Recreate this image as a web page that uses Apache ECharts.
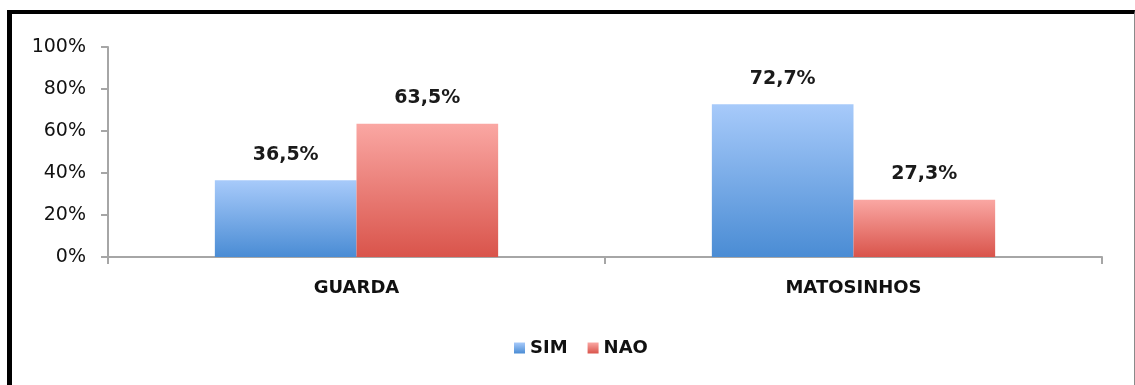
<!DOCTYPE html>
<html>
<head>
<meta charset="utf-8">
<script src="https://cdn.jsdelivr.net/npm/echarts@6/dist/echarts.min.js"></script>
<style>
  html, body { margin: 0; padding: 0; background: #fff; }
  #frame { position: absolute; left: 7px; top: 10px; width: 1122px; height: 400px;
           border-top: 4px solid #000; border-left: 5px solid #000; border-right: 1px solid #8a8a8a; }
  #chart { position: absolute; left: 0; top: 0; width: 1135px; height: 385px; }
</style>
</head>
<body>
<div id="frame"></div>
<div id="chart"></div>
<script>
const categories = ['GUARDA', 'MATOSINHOS'];
const seriesNames = ['SIM', 'NAO'];
const simValues = [36.5, 72.7];
const naoValues = [63.5, 27.3];
const yTicks = [0, 20, 40, 60, 80, 100];

const FONT = '"DejaVu Sans", sans-serif';
function grad(top, bottom) {
  return new echarts.graphic.LinearGradient(0, 0, 0, 1, [
    { offset: 0, color: top }, { offset: 1, color: bottom }
  ]);
}
const labelCfg = {
  show: true, position: 'top', distance: 16,
  fontFamily: FONT, fontSize: 19, fontWeight: 'bold', color: '#1a1a1a',
  formatter: p => p.value.toFixed(1).replace('.', ',') + '%'
};

const chart = echarts.init(document.getElementById('chart'), null, { renderer: 'canvas' });
chart.setOption({
  animation: false,
  backgroundColor: 'transparent',
  grid: { left: 108, right: 33, top: 47, bottom: 128, containLabel: false },
  legend: {
    data: seriesNames, top: 334, left: 509,
    itemWidth: 11, itemHeight: 11, itemGap: 20,
    icon: 'rect',
    textStyle: { fontFamily: FONT, fontSize: 18, fontWeight: 'bold', color: '#111' }
  },
  xAxis: {
    type: 'category', data: categories,
    axisLine: { lineStyle: { color: '#a6a6a6', width: 2 } },
    axisTick: { show: true, length: 7, alignWithLabel: false, lineStyle: { color: '#a6a6a6', width: 2 } },
    axisLabel: { fontFamily: FONT, fontSize: 18, fontWeight: 'bold', color: '#111', margin: 22 }
  },
  yAxis: {
    type: 'value', min: yTicks[0], max: yTicks[yTicks.length - 1], interval: 20,
    axisLine: { show: true, lineStyle: { color: '#a6a6a6', width: 2 } },
    axisTick: { show: true, length: 7, lineStyle: { color: '#a6a6a6', width: 2 } },
    splitLine: { show: false },
    axisLabel: { fontFamily: FONT, fontSize: 19, color: '#111', margin: 22,
                 formatter: v => v + '%' }
  },
  series: [
    { name: 'SIM', type: 'bar', data: simValues, barGap: '0%', barCategoryGap: '43%',
      itemStyle: { color: grad('#a7cafa', '#4a8cd4') }, label: labelCfg },
    { name: 'NAO', type: 'bar', data: naoValues, barGap: '0%', barCategoryGap: '43%',
      itemStyle: { color: grad('#faa7a3', '#d9544b') }, label: labelCfg }
  ]
});
</script>
</body>
</html>
